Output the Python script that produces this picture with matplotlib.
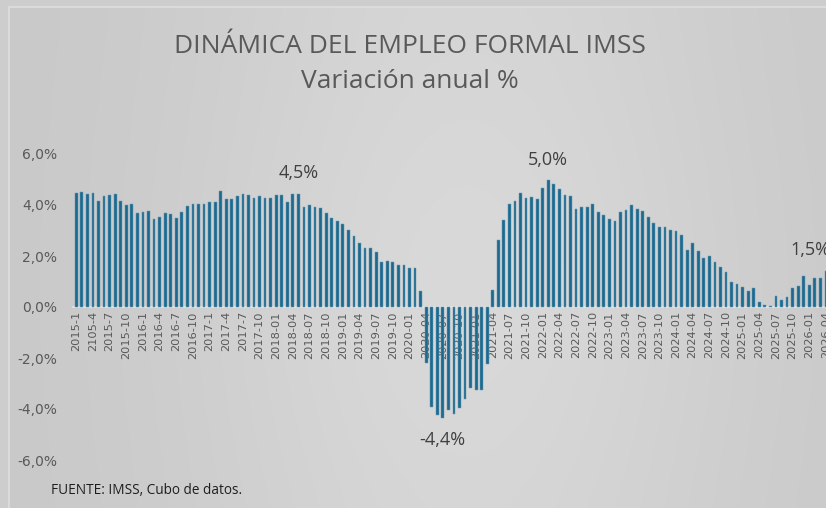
import matplotlib
matplotlib.use("Agg")
import matplotlib.pyplot as plt
import numpy as np
from matplotlib.patches import Rectangle

# ---------------- data ----------------
values = [
    # 2015
    4.48, 4.50, 4.45, 4.48, 4.15, 4.36, 4.38, 4.45, 4.17, 4.01, 4.02, 3.68,
    # 2016
    3.74, 3.75, 3.45, 3.54, 3.70, 3.63, 3.50, 3.74, 3.95, 4.05, 4.05, 4.02,
    # 2017
    4.10, 4.13, 4.56, 4.23, 4.25, 4.36, 4.43, 4.40, 4.26, 4.34, 4.28, 4.26,
    # 2018
    4.39, 4.41, 4.10, 4.44, 4.45, 3.92, 4.01, 3.93, 3.88, 3.68, 3.50, 3.36,
    # 2019
    3.24, 3.01, 2.77, 2.50, 2.33, 2.33, 2.15, 1.76, 1.81, 1.78, 1.65, 1.65,
    # 2020
    1.52, 1.51, 0.64, -2.20, -3.91, -4.22, -4.36, -4.05, -4.19, -3.96, -3.61, -3.16,
    # 2021
    -3.24, -3.24, -2.24, 0.68, 2.64, 3.40, 4.02, 4.17, 4.48, 4.27, 4.32, 4.23,
    # 2022
    4.68, 4.99, 4.83, 4.64, 4.41, 4.35, 3.83, 3.93, 3.91, 4.02, 3.71, 3.61,
    # 2023
    3.44, 3.39, 3.71, 3.80, 4.01, 3.83, 3.76, 3.53, 3.31, 3.13, 3.13, 3.01,
    # 2024
    2.98, 2.84, 2.24, 2.50, 2.19, 1.93, 2.00, 1.76, 1.55, 1.38, 1.00, 0.92,
    # 2025
    0.78, 0.61, 0.75, 0.18, 0.08, 0.02, 0.43, 0.26, 0.39, 0.73, 0.83, 1.22,
    # 2026
    0.86, 1.13, 1.13, 1.43,
]

tick_labels = [
    "2015-1", "2105-4", "2015-7", "2015-10",
    "2016-1", "2016-4", "2016-7", "2016-10",
    "2017-1", "2017-4", "2017-7", "2017-10",
    "2018-01", "2018-04", "2018-07", "2018-10",
    "2019-01", "2019-04", "2019-07", "2019-10",
    "2020-01", "2020-04", "2020-07", "2020-10",
    "2021-01", "2021-04", "2021-07", "2021-10",
    "2022-01", "2022-04", "2022-07", "2022-10",
    "2023-01", "2023-04", "2023-07", "2023-10",
    "2024-01", "2024-04", "2024-07", "2024-10",
    "2025-01", "2025-04", "2025-07", "2025-10",
    "2026-01", "2026-04",
]

yticks = [-6, -4, -2, 0, 2, 4, 6]

# annotated points: (index, label, above?)
annotations = [(40, "4,5%", True), (85, "5,0%", True), (66, "-4,4%", False), (135, "1,5%", True)]

title = "DINÁMICA DEL EMPLEO FORMAL IMSS"
subtitle = "Variación anual %"
source = "FUENTE: IMSS, Cubo de datos."

# ---------------- figure ----------------
W, H = 826, 508
fig = plt.figure(figsize=(W / 100, H / 100), dpi=100)
fig.patch.set_facecolor("#cdcdcd")

# background gradient panel
bg = fig.add_axes([0, 0, 1, 1], zorder=-5)
xg = np.linspace(0, 1, 400)
yg = np.linspace(0, 1, 200)
XG, YG = np.meshgrid(xg, yg)
shade = 0.785 + 0.065 * np.exp(-((XG - 0.55) ** 2) / 0.12) * (0.75 + 0.25 * np.exp(-((YG - 0.45) ** 2) / 0.2))
img = np.dstack([shade, shade, shade])
bg.imshow(img, extent=[9 / W, 1.02, -0.02, 1 - 7 / H], aspect="auto", origin="lower")
bg.add_patch(Rectangle((9 / W, -0.05), 1.2, 1 - 7 / H + 0.05, fill=False,
                       edgecolor="#dedede", linewidth=1.2))
bg.set_xlim(0, 1)
bg.set_ylim(0, 1)
bg.axis("off")

# main axes (extends beyond right edge, as in the cropped reference)
x0 = 76.3
step = 5.553
xmin, xmax = -0.6, 140.0
left_px = x0 + xmin * step
right_px = x0 + xmax * step
ax = fig.add_axes([left_px / W, (H - 460) / H, (right_px - left_px) / W, (460 - 154) / H])
ax.set_facecolor("none")

for s in ["top", "right", "left"]:
    ax.spines[s].set_visible(False)
ax.spines["bottom"].set_position(("data", 0))
ax.spines["bottom"].set_color("#e4e4e4")
ax.spines["bottom"].set_linewidth(1.2)
ax.spines["bottom"].set_zorder(2)

x = np.arange(len(values))
ax.bar(x, values, width=0.5, color="#1c6a90", edgecolor="#6d9ab3", linewidth=0.35, zorder=3)

ax.set_xlim(xmin, xmax)
ax.set_ylim(-6, 6)
ax.set_yticks(yticks)
ax.set_yticklabels([f"{v:.1f}%".replace(".", ",") for v in yticks])
ax.set_xticks(x[::3])
ax.set_xticklabels(tick_labels, rotation=90, va="top", ha="center")

ax.tick_params(axis="y", length=0, pad=11.5, labelsize=10, labelcolor="#595959")
ax.tick_params(axis="x", length=0, pad=3, labelsize=8.2, labelcolor="#595959")
for lab in ax.get_yticklabels() + ax.get_xticklabels():
    lab.set_fontfamily("DejaVu Sans")

for idx, txt, above in annotations:
    v = values[idx]
    dx = -11 if idx == len(values) - 1 else 0
    dy = 14.5 if above else -16
    ax.annotate(txt, xy=(idx, v), xytext=(dx, dy), textcoords="offset points",
                ha="center", va="center", fontsize=13, color="#404040",
                family="Open Sans", annotation_clip=False)

fig.text(410 / W, (H - 53.3) / H, title, ha="center", va="baseline",
         fontsize=19, color="#595959", family="Open Sans")
fig.text(410 / W, (H - 88.3) / H, subtitle, ha="center", va="baseline",
         fontsize=19, color="#595959", family="Open Sans")
fig.text(51 / W, (H - 491) / H, source, ha="left", va="center",
         fontsize=9.8, color="#1e1e1e", family="Open Sans")

fig.savefig("out.png", dpi=100, facecolor=fig.get_facecolor())
